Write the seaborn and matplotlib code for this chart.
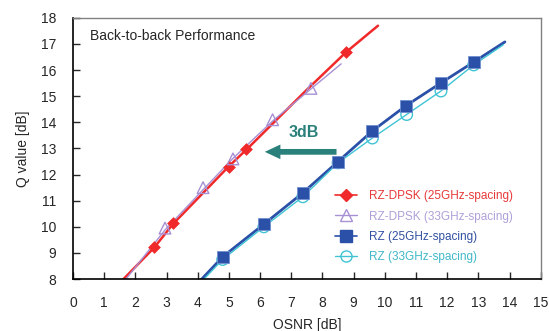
import numpy as np
import pandas as pd
import seaborn as sns
import matplotlib.pyplot as plt
from matplotlib.lines import Line2D

# measured points (markers)
dpsk25_x = [2.6, 3.2, 5.0, 5.55, 8.75]
dpsk25_y = [9.23, 10.15, 12.3, 12.98, 16.7]
dpsk33_x = [2.95, 4.17, 5.13, 6.4, 7.63]
dpsk33_y = [9.95, 11.5, 12.6, 14.1, 15.3]
rz25_x = [4.8, 6.12, 7.37, 8.5, 9.6, 10.67, 11.8, 12.85]
rz25_y = [8.85, 10.1, 11.3, 12.5, 13.67, 14.63, 15.51, 16.31]
rz33_x = [4.8, 6.12, 7.37, 8.5, 9.6, 10.7, 11.8, 12.85]
rz33_y = [8.75, 10.0, 11.15, 12.45, 13.4, 14.3, 15.2, 16.2]

# fitted curves (extend past the markers)
dpsk25_line_x = [1.62, 2.6, 3.2, 5.0, 5.6, 7.5, 8.75, 9.78]
dpsk25_line_y = [8.0, 9.2, 10.1, 12.32, 13.0, 15.25, 16.68, 17.7]
dpsk33_line_x = [1.7, 2.95, 4.17, 5.13, 6.4, 7.63, 8.6]
dpsk33_line_y = [8.0, 9.88, 11.42, 12.62, 14.05, 15.28, 16.24]
rz25_line_x = [4.13, 4.8, 6.12, 7.37, 8.5, 9.6, 10.67, 11.8, 12.85, 13.85]
rz25_line_y = [8.0, 8.85, 10.1, 11.3, 12.5, 13.67, 14.63, 15.51, 16.31, 17.08]
rz33_line_x = [4.2, 4.8, 6.12, 7.37, 8.5, 9.6, 10.7, 11.8, 12.85, 13.8]
rz33_line_y = [8.0, 8.75, 10.0, 11.15, 12.45, 13.4, 14.3, 15.2, 16.2, 16.97]

labels = ['RZ-DPSK (25GHz-spacing)', 'RZ-DPSK (33GHz-spacing)',
          'RZ (25GHz-spacing)', 'RZ (33GHz-spacing)']
colors = ['#f02a2a', '#a890d4', '#2a50a8', '#40c4d4']
text_colors = ['#e83838', '#b0a0d8', '#3050a0', '#40b8c8']

sns.set_style('white')
plt.rcParams['font.family'] = ['Liberation Sans', 'DejaVu Sans']

fig = plt.figure(figsize=(5.49, 3.31), dpi=100)
ax = fig.add_axes([0.133, 0.157, 0.852, 0.789])

lines = [(dpsk25_line_x, dpsk25_line_y), (dpsk33_line_x, dpsk33_line_y),
         (rz25_line_x, rz25_line_y), (rz33_line_x, rz33_line_y)]
widths = [1.8, 1.0, 2.0, 1.0]
for (lx, ly), c, w in zip(lines, colors, widths):
    sns.lineplot(x=lx, y=ly, color=c, lw=w, ax=ax, sort=False)

sns.scatterplot(x=dpsk25_x, y=dpsk25_y, marker='D', s=36, color=colors[0],
                edgecolor=colors[0], ax=ax, zorder=5)
sns.scatterplot(x=dpsk33_x, y=dpsk33_y, marker='^', s=70, facecolor='none',
                edgecolor=colors[1], linewidth=1.0, ax=ax, zorder=5)
sns.scatterplot(x=rz33_x, y=rz33_y, marker='o', s=70, facecolor='none',
                edgecolor=colors[3], linewidth=1.0, ax=ax, zorder=5)
sns.scatterplot(x=rz25_x, y=rz25_y, marker='s', s=80, color=colors[2],
                edgecolor='#7090d0', linewidth=0.6, ax=ax, zorder=6)

ax.set_xlim(0, 15)
ax.set_ylim(8, 18)
ax.set_xticks(range(0, 16))
ax.set_yticks(range(8, 19))
ax.tick_params(direction='in', length=5, width=1, labelsize=10, pad=12,
               top=False, right=False, bottom=True, left=True)
for s in ['left', 'bottom']:
    ax.spines[s].set_color('black')
    ax.spines[s].set_linewidth(1.2)
for s in ['top', 'right']:
    ax.spines[s].set_color('#808080')
    ax.spines[s].set_linewidth(1.0)

ax.set_xlabel('OSNR [dB]', fontsize=10, labelpad=6)
ax.set_ylabel('Q value [dB]', fontsize=10, labelpad=8)

ax.text(0.55, 17.3, 'Back-to-back Performance', fontsize=10, va='center')

ax.arrow(8.45, 12.87, -2.3, 0, width=0.22, head_width=0.56, head_length=0.5,
         length_includes_head=True, color='#2a807a', lw=0)
ax.text(7.4, 13.6, '3dB', fontsize=11.5, fontweight='bold', color='#2a807a',
        ha='center', va='center')

handles = [
    Line2D([], [], color=colors[0], marker='D', markersize=6, lw=1.2),
    Line2D([], [], color=colors[1], marker='^', markersize=9, lw=1.0,
           markerfacecolor='none'),
    Line2D([], [], color=colors[2], marker='s', markersize=9, lw=1.2),
    Line2D([], [], color=colors[3], marker='o', markersize=8, lw=1.0,
           markerfacecolor='none'),
]
ax.legend(handles, labels, loc='upper left', bbox_to_anchor=(0.56, 0.34),
          frameon=False, fontsize=8.5, labelcolor=text_colors,
          borderpad=0, borderaxespad=0,
          handlelength=1.9, handletextpad=1.0, labelspacing=0.7)

fig.savefig('out.png', dpi=100)
